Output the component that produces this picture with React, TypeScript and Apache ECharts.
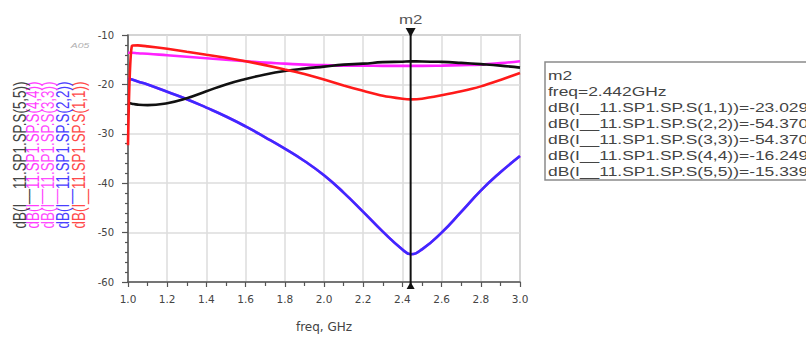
import React, { useEffect, useRef } from "react";
import * as echarts from "echarts";

// Sweep frequencies (GHz), shared by every trace
const freq = [1.0, 1.02, 1.05, 1.1, 1.2, 1.3, 1.4, 1.5, 1.6, 1.7, 1.8, 1.9, 2.0, 2.1, 2.2, 2.3, 2.4, 2.442, 2.5, 2.6, 2.7, 2.8, 2.9, 3.0];

// Return loss traces, dB
const s11 = [-32.3, -12.2, -12.1, -12.3, -12.8, -13.4, -14.0, -14.6, -15.3, -16.1, -17.0, -17.9, -19.0, -20.2, -21.3, -22.3, -22.9, -23.029, -22.9, -22.2, -21.4, -20.4, -19.1, -17.7];
const s22 = [-18.8, -19.0, -19.4, -20.0, -21.5, -23.0, -24.7, -26.5, -28.5, -30.7, -33.0, -35.5, -38.4, -41.9, -45.8, -49.8, -53.4, -54.37, -53.4, -50.0, -45.8, -41.5, -37.8, -34.5];
const s33 = [-18.8, -19.0, -19.4, -20.0, -21.5, -23.0, -24.7, -26.5, -28.5, -30.7, -33.0, -35.5, -38.4, -41.9, -45.8, -49.8, -53.4, -54.37, -53.4, -50.0, -45.8, -41.5, -37.8, -34.5];
const s44 = [-13.6, -13.6, -13.7, -13.8, -14.1, -14.4, -14.7, -15.0, -15.3, -15.6, -15.8, -16.0, -16.1, -16.2, -16.2, -16.25, -16.25, -16.249, -16.25, -16.2, -16.1, -16.0, -15.7, -15.3];
const s55 = [-23.7, -23.9, -24.1, -24.2, -23.8, -22.8, -21.4, -20.0, -18.9, -18.0, -17.3, -16.8, -16.4, -16.0, -15.8, -15.5, -15.4, -15.339, -15.35, -15.45, -15.65, -15.9, -16.2, -16.6];

const traceNames = ["S(1,1)", "S(2,2)", "S(3,3)", "S(4,4)", "S(5,5)"];
const traceValues = [s11, s22, s33, s44, s55];
const traceColors = ["#ff1a1a", "#3b2bff", "#ff22ff", "#ff22ff", "#111111"];
const labelColors = ["#ff4a4a", "#4b3dff", "#ff4cff", "#ff3cff", "#444444"];
const drawOrder = [2, 1, 3, 4, 0];

const markerName = "m2";
const markerFreq = 2.442;
const traceLabel = (n: string) => `dB(I__11.SP1.SP.${n})`;

const FONT = "Arial, 'Liberation Sans', sans-serif";
const WIDE = "'DejaVu Sans', sans-serif";

export default function App() {
  const ref = useRef<HTMLDivElement>(null);

  useEffect(() => {
    if (!ref.current) return;
    const chart = echarts.init(ref.current, null, { renderer: "svg" });

    const series = drawOrder.map((i) => ({
      type: "line" as const,
      name: traceNames[i],
      data: freq.map((f, k) => [f, traceValues[i][k]]),
      showSymbol: false,
      smooth: i === 0 ? 0.25 : 0.5,
      lineStyle: { color: traceColors[i], width: 2.6 },
      z: 3,
    }));

    chart.setOption({
      animation: false,
      backgroundColor: "#ffffff",
      grid: {
        left: 128,
        right: 286,
        top: 35,
        bottom: 53,
        show: true,
        borderColor: "#a8a8a8",
        borderWidth: 1.5,
      },
      xAxis: {
        type: "value",
        min: 1,
        max: 3,
        interval: 0.2,
        name: "freq, GHz",
        nameLocation: "middle",
        nameGap: 39,
        nameTextStyle: { fontFamily: WIDE, fontSize: 12, color: "#444" },
        axisLine: { show: true, onZero: false, lineStyle: { color: "#555", width: 1.5 } },
        axisTick: { show: true, length: 5, lineStyle: { color: "#555", width: 1.2 } },
        minorTick: { show: true, splitNumber: 2, length: 4, lineStyle: { color: "#555", width: 1.2 } },
        axisLabel: {
          fontFamily: WIDE,
          fontSize: 10.5,
          color: "#444",
          margin: 11,
          formatter: (v: number) => v.toFixed(1),
        },
        splitLine: { show: true, lineStyle: { color: "#dcdcdc", width: 1.5 } },
      },
      yAxis: {
        type: "value",
        min: -60,
        max: -10,
        interval: 10,
        axisLine: { show: true, onZero: false, lineStyle: { color: "#555", width: 1.5 } },
        axisTick: { show: true, length: 6, lineStyle: { color: "#555", width: 1.2 } },
        minorTick: { show: true, splitNumber: 5, length: 3, lineStyle: { color: "#555", width: 1.2 } },
        axisLabel: { fontFamily: WIDE, fontSize: 10, color: "#444", margin: 14 },
        splitLine: { show: true, lineStyle: { color: "#dcdcdc", width: 1.5 } },
      },
      series,
    });

    // Marker position from the x scale
    const mx = chart.convertToPixel({ xAxisIndex: 0 }, markerFreq) as number;
    const yTop = chart.convertToPixel({ yAxisIndex: 0 }, -10) as number;
    const yBot = chart.convertToPixel({ yAxisIndex: 0 }, -60) as number;

    const k = freq.indexOf(markerFreq);
    const readout = [
      markerName,
      `freq=${markerFreq.toFixed(3)}GHz`,
      ...traceNames.map((n, i) => `${traceLabel(n)}=${traceValues[i][k].toFixed(3)}`),
    ];

    const graphic: any[] = [];

    // Rotated trace labels on the left
    const colX = [79, 63, 48, 33, 20];
    traceNames.forEach((n, i) => {
      graphic.push({
        type: "text",
        x: colX[i],
        y: 155,
        rotation: Math.PI / 2,
        scaleY: 1.35,
        style: {
          text: traceLabel(n),
          fontFamily: FONT,
          fontSize: 13.4,
          fill: labelColors[i],
          align: "center",
          verticalAlign: "middle",
        },
      });
    });

    graphic.push({
      type: "text",
      x: 80,
      y: 45,
      scaleX: 1.3,
      style: {
        text: "A05",
        fontFamily: FONT,
        fontSize: 8,
        fontStyle: "italic",
        fill: "#b0b0b0",
        align: "center",
        verticalAlign: "middle",
      },
    });

    // Marker line with end arrows
    graphic.push({
      type: "line",
      shape: { x1: mx, y1: yTop - 6, x2: mx, y2: yBot + 6 },
      style: { stroke: "#111", lineWidth: 2 },
      z: 10,
    });
    graphic.push({
      type: "polygon",
      shape: { points: [[mx - 5, yTop - 7], [mx + 5, yTop - 7], [mx, yTop + 2]] },
      style: { fill: "#111" },
      z: 10,
    });
    graphic.push({
      type: "polygon",
      shape: { points: [[mx - 4, yBot + 7], [mx + 4, yBot + 7], [mx, yBot]] },
      style: { fill: "#111" },
      z: 10,
    });
    graphic.push({
      type: "text",
      x: mx,
      y: 19,
      scaleX: 1.3,
      style: {
        text: markerName,
        fontFamily: FONT,
        fontSize: 13,
        fill: "#555",
        align: "center",
        verticalAlign: "middle",
      },
      z: 10,
    });

    // Marker readout box
    graphic.push({
      type: "rect",
      shape: { x: 545, y: 62, width: 300, height: 118 },
      style: { fill: "#fff", stroke: "#8a8a8a", lineWidth: 1.5 },
    });
    readout.forEach((line, i) => {
      graphic.push({
        type: "text",
        x: 548,
        y: 75 + i * 16,
        scaleX: 1.3,
        style: {
          text: line,
          fontFamily: FONT,
          fontSize: 13.4,
          fill: "#444",
          align: "left",
          verticalAlign: "middle",
        },
      });
    });

    chart.setOption({ graphic });

    return () => chart.dispose();
  }, []);

  return (
    <div
      ref={ref}
      style={{ position: "fixed", left: 0, top: 0, width: 806, height: 338 }}
    />
  );
}
